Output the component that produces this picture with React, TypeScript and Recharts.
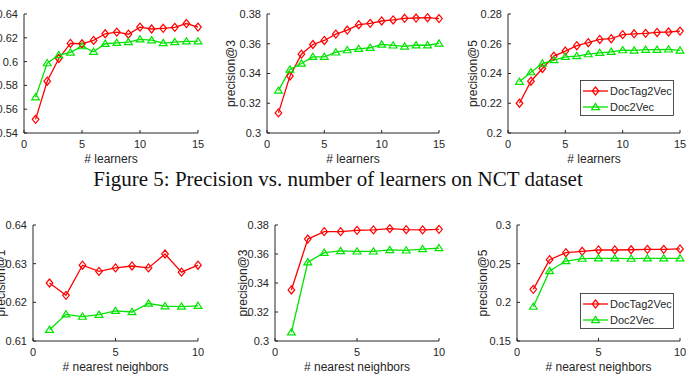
import { LineChart, Line, XAxis, YAxis, Legend } from 'recharts';

// x values
const learners = [1, 2, 3, 4, 5, 6, 7, 8, 9, 10, 11, 12, 13, 14, 15];
const neighbors = [1, 2, 3, 4, 5, 6, 7, 8, 9, 10];

// Figure 5: precision vs. number of learners
const learnersP1DocTag2Vec = [0.5515, 0.5835, 0.6026, 0.6153, 0.615, 0.6178, 0.6234, 0.6248, 0.623, 0.629, 0.6274, 0.628, 0.6288, 0.632, 0.629];
const learnersP1Doc2Vec = [0.570, 0.5987, 0.6055, 0.6077, 0.613, 0.6082, 0.615, 0.6158, 0.6164, 0.6187, 0.618, 0.6156, 0.6164, 0.617, 0.617];
const learnersP3DocTag2Vec = [0.3135, 0.3382, 0.353, 0.3595, 0.3622, 0.3665, 0.3692, 0.3728, 0.3737, 0.3753, 0.376, 0.3771, 0.3773, 0.3775, 0.3769];
const learnersP3Doc2Vec = [0.3285, 0.3427, 0.3467, 0.3512, 0.3512, 0.3542, 0.3557, 0.3566, 0.3573, 0.3595, 0.3589, 0.3582, 0.359, 0.359, 0.3602];
const learnersP5DocTag2Vec = [0.22, 0.2348, 0.2434, 0.2517, 0.2551, 0.2587, 0.2607, 0.2629, 0.2634, 0.2661, 0.2667, 0.267, 0.2676, 0.2679, 0.2685];
const learnersP5Doc2Vec = [0.2344, 0.2409, 0.2467, 0.249, 0.2512, 0.2517, 0.253, 0.2539, 0.2546, 0.2557, 0.2555, 0.256, 0.256, 0.2562, 0.2555];

// bottom row: precision vs. number of nearest neighbors
const neighborsP1DocTag2Vec = [0.625, 0.6218, 0.6296, 0.628, 0.6289, 0.6294, 0.6289, 0.6325, 0.6278, 0.6296];
const neighborsP1Doc2Vec = [0.6129, 0.6169, 0.6163, 0.6168, 0.6178, 0.6175, 0.6197, 0.619, 0.6189, 0.6191];
const neighborsP3DocTag2Vec = [0.3352, 0.3703, 0.3754, 0.3754, 0.3763, 0.3766, 0.3775, 0.3768, 0.3766, 0.377];
const neighborsP3Doc2Vec = [0.306, 0.3543, 0.3609, 0.3621, 0.3618, 0.3618, 0.3628, 0.3625, 0.3634, 0.3641];
const neighborsP5DocTag2Vec = [0.2168, 0.2552, 0.2642, 0.266, 0.2677, 0.2677, 0.268, 0.2685, 0.2685, 0.269];
const neighborsP5Doc2Vec = [0.1944, 0.2405, 0.2534, 0.2565, 0.2569, 0.2569, 0.2565, 0.2569, 0.2569, 0.2569];

// tick labels
const learnerTicks = [0, 5, 10, 15];
const neighborTicks = [0, 5, 10];
const ticksP1Top = [0.54, 0.56, 0.58, 0.6, 0.62, 0.64];
const ticksP3Top = [0.3, 0.32, 0.34, 0.36, 0.38];
const ticksP5Top = [0.2, 0.22, 0.24, 0.26, 0.28];
const ticksP1Bottom = [0.61, 0.62, 0.63, 0.64];
const ticksP3Bottom = [0.3, 0.32, 0.34, 0.36, 0.38];
const ticksP5Bottom = [0.15, 0.2, 0.25, 0.3];

const seriesNames = ['DocTag2Vec', 'Doc2Vec'];
const caption = 'Figure 5: Precision vs. number of learners on NCT dataset';

const RED = '#ff0000';
const GREEN = '#00e400';
const AXIS = '#262626';
const SANS = '"Liberation Sans", Arial, Helvetica, sans-serif';

const toRows = (xs: number[], a: number[], b: number[]) =>
  xs.map((x, i) => ({ x, a: a[i], b: b[i] }));

const fmt = (v: number) => String(Number(v.toFixed(2)));

function Diamond(props: any) {
  const { cx, cy, stroke } = props;
  if (cx == null || cy == null) return null;
  return (
    <path
      d={`M${cx},${cy - 4}L${cx + 3.3},${cy}L${cx},${cy + 4}L${cx - 3.3},${cy}Z`}
      fill="none"
      stroke={stroke}
      strokeWidth={1.2}
    />
  );
}

function Triangle(props: any) {
  const { cx, cy, stroke } = props;
  if (cx == null || cy == null) return null;
  return (
    <path
      d={`M${cx},${cy - 3.6}L${cx + 3.9},${cy + 2.6}L${cx - 3.9},${cy + 2.6}Z`}
      fill="none"
      stroke={stroke}
      strokeWidth={1.2}
    />
  );
}

function LegendBox({ payload }: any) {
  // keep plotting order, not alphabetical
  const items = seriesNames
    .map((name) => (payload || []).find((p: any) => p.value === name))
    .filter(Boolean);
  return (
    <svg width={94} height={36} style={{ display: 'block' }}>
      <rect x={0.5} y={0.5} width={93} height={35} fill="#fff" stroke={AXIS} strokeWidth={0.8} />
      {items.map((p: any, i: number) => {
        const y = 11 + i * 16;
        return (
          <g key={p.value}>
            <line x1={3} x2={28} y1={y} y2={y} stroke={p.color} strokeWidth={1.3} />
            {i === 0 ? <Diamond cx={15.5} cy={y} stroke={p.color} /> : <Triangle cx={15.5} cy={y} stroke={p.color} />}
            <text x={30} y={y + 4} fontSize={11} fontFamily={SANS} fill={AXIS}>
              {p.value}
            </text>
          </g>
        );
      })}
    </svg>
  );
}

interface PanelProps {
  plotLeft: number;
  plotRight: number;
  plotTop: number;
  plotBottom: number;
  labelX: number;
  xHeight: number;
  data: { x: number; a: number; b: number }[];
  xDomain: [number, number];
  xTicks: number[];
  yDomain: [number, number];
  yTicks: number[];
  xLabel: string;
  yLabel: string;
  legendAt?: { x: number; y: number };
}

function Panel(p: PanelProps) {
  const mTop = 6;
  const mRight = 8;
  const mLeft = 10;
  const mBottom = 6;
  const chartLeft = p.labelX - mLeft;
  const chartTop = p.plotTop - mTop;
  const width = p.plotRight + mRight - chartLeft;
  const height = p.plotBottom + p.xHeight + mBottom - chartTop;
  const tickStyle = { fontSize: 11, fill: AXIS, fontFamily: SANS };
  return (
    <div style={{ position: 'absolute', left: chartLeft, top: chartTop }}>
      <LineChart width={width} height={height} data={p.data} margin={{ top: mTop, right: mRight, left: mLeft, bottom: mBottom }}>
        <XAxis
          dataKey="x"
          type="number"
          domain={p.xDomain}
          ticks={p.xTicks}
          interval={0}
          height={p.xHeight}
          stroke={AXIS}
          tickSize={-3}
          tickMargin={10}
          tick={tickStyle}
          label={{ value: p.xLabel, position: 'insideBottom', offset: 0, fontSize: 12, fill: AXIS, fontFamily: SANS }}
        />
        <YAxis
          type="number"
          domain={p.yDomain}
          ticks={p.yTicks}
          interval={0}
          width={p.plotLeft - p.labelX}
          stroke={AXIS}
          tickSize={-3}
          tickMargin={9}
          tick={tickStyle}
          tickFormatter={fmt}
          label={{
            value: p.yLabel,
            angle: -90,
            position: 'insideLeft',
            offset: 0,
            fontSize: 12,
            fill: AXIS,
            fontFamily: SANS,
            style: { textAnchor: 'middle' },
          }}
        />
        <Line
          type="linear"
          dataKey="a"
          name={seriesNames[0]}
          stroke={RED}
          strokeWidth={1.3}
          dot={<Diamond />}
          activeDot={false}
          isAnimationActive={false}
        />
        <Line
          type="linear"
          dataKey="b"
          name={seriesNames[1]}
          stroke={GREEN}
          strokeWidth={1.3}
          dot={<Triangle />}
          activeDot={false}
          isAnimationActive={false}
        />
        {p.legendAt && (
          <Legend
            layout="vertical"
            align="center"
            verticalAlign="middle"
            content={<LegendBox />}
            wrapperStyle={{ left: p.legendAt.x - chartLeft, top: p.legendAt.y - chartTop, width: 94, height: 36 }}
          />
        )}
      </LineChart>
    </div>
  );
}

export default function App() {
  return (
    <div
      style={{
        position: 'absolute',
        left: 0,
        top: 0,
        width: 689,
        height: 382,
        overflow: 'hidden',
        background: '#fff',
      }}
    >
      <Panel
        plotLeft={24} plotRight={198} plotTop={14} plotBottom={133} labelX={-10} xHeight={30}
        data={toRows(learners, learnersP1DocTag2Vec, learnersP1Doc2Vec)}
        xDomain={[0, 15]} xTicks={learnerTicks} yDomain={[0.54, 0.64]} yTicks={ticksP1Top}
        xLabel="# learners" yLabel="precision@1"
      />
      <Panel
        plotLeft={267} plotRight={439} plotTop={14} plotBottom={133} labelX={231} xHeight={30}
        data={toRows(learners, learnersP3DocTag2Vec, learnersP3Doc2Vec)}
        xDomain={[0, 15]} xTicks={learnerTicks} yDomain={[0.3, 0.38]} yTicks={ticksP3Top}
        xLabel="# learners" yLabel="precision@3"
      />
      <Panel
        plotLeft={508} plotRight={680} plotTop={14} plotBottom={133} labelX={473} xHeight={30}
        data={toRows(learners, learnersP5DocTag2Vec, learnersP5Doc2Vec)}
        xDomain={[0, 15]} xTicks={learnerTicks} yDomain={[0.2, 0.28]} yTicks={ticksP5Top}
        xLabel="# learners" yLabel="precision@5" legendAt={{ x: 580, y: 80 }}
      />
      <svg width={689} height={30} style={{ position: 'absolute', left: 0, top: 167 }}>
        <text x={338} y={19} textAnchor="middle" fontSize={21} fontFamily='"Liberation Serif", "Times New Roman", serif' fill="#111">
          {caption}
        </text>
      </svg>
      <Panel
        plotLeft={33} plotRight={198} plotTop={225} plotBottom={341} labelX={1} xHeight={30}
        data={toRows(neighbors, neighborsP1DocTag2Vec, neighborsP1Doc2Vec)}
        xDomain={[0, 10]} xTicks={neighborTicks} yDomain={[0.61, 0.64]} yTicks={ticksP1Bottom}
        xLabel="# nearest neighbors" yLabel="precision@1"
      />
      <Panel
        plotLeft={275} plotRight={439} plotTop={225} plotBottom={341} labelX={243} xHeight={30}
        data={toRows(neighbors, neighborsP3DocTag2Vec, neighborsP3Doc2Vec)}
        xDomain={[0, 10]} xTicks={neighborTicks} yDomain={[0.3, 0.38]} yTicks={ticksP3Bottom}
        xLabel="# nearest neighbors" yLabel="precision@3"
      />
      <Panel
        plotLeft={517} plotRight={680} plotTop={225} plotBottom={341} labelX={483} xHeight={30}
        data={toRows(neighbors, neighborsP5DocTag2Vec, neighborsP5Doc2Vec)}
        xDomain={[0, 10]} xTicks={neighborTicks} yDomain={[0.15, 0.3]} yTicks={ticksP5Bottom}
        xLabel="# nearest neighbors" yLabel="precision@5" legendAt={{ x: 580, y: 293 }}
      />
    </div>
  );
}
